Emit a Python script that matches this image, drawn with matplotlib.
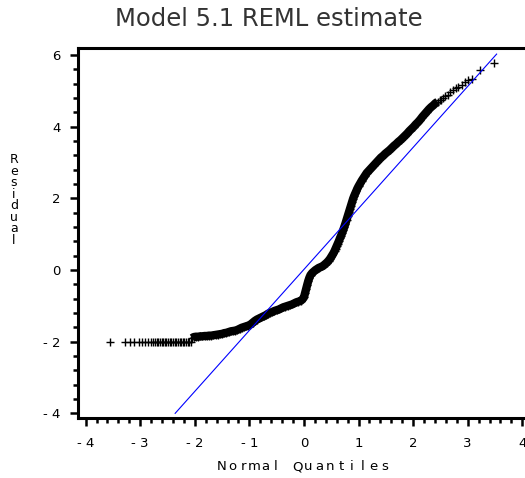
import matplotlib
matplotlib.use("Agg")
import matplotlib.pyplot as plt
from matplotlib.ticker import FixedLocator, MultipleLocator

# ---------------- data ----------------
# lower tail: residual floor at about -2.02
tail_q = [-3.55, -3.28, -3.19, -3.11, -3.03, -2.97, -2.91, -2.86, -2.81, -2.77,
          -2.73, -2.70, -2.67, -2.64, -2.61, -2.58, -2.55, -2.52, -2.49, -2.46,
          -2.43, -2.40, -2.37, -2.34, -2.31, -2.28, -2.25, -2.22, -2.19, -2.16,
          -2.13, -2.10, -2.07]
tail_r = [-2.02] * 33

# dense body of the Q-Q curve
body_q = [-2.05, -2.02, -1.98, -1.94, -1.90, -1.86, -1.82, -1.78, -1.74, -1.70,
          -1.66, -1.62, -1.58, -1.54, -1.50, -1.46, -1.42, -1.38, -1.34, -1.30,
          -1.26, -1.22, -1.18, -1.14, -1.10, -1.06, -1.02, -0.98, -0.94, -0.90,
          -0.86, -0.82, -0.78, -0.74, -0.70, -0.66, -0.62, -0.58, -0.54, -0.50,
          -0.46, -0.42, -0.38, -0.34, -0.30, -0.26, -0.22, -0.18, -0.14, -0.10,
          -0.06, -0.03, 0.00, 0.02, 0.04, 0.06, 0.08, 0.10, 0.12, 0.15,
          0.18, 0.21, 0.24, 0.27, 0.30, 0.33, 0.36, 0.39, 0.42, 0.45,
          0.48, 0.50, 0.52, 0.54, 0.56, 0.58, 0.60, 0.62, 0.64, 0.66,
          0.68, 0.70, 0.72, 0.74, 0.76, 0.78, 0.80, 0.82, 0.84, 0.86,
          0.88, 0.90, 0.92, 0.94, 0.96, 0.98, 1.00, 1.03, 1.06, 1.09,
          1.12, 1.15, 1.18, 1.21, 1.25, 1.29, 1.33, 1.37, 1.41, 1.45,
          1.49, 1.53, 1.57, 1.61, 1.65, 1.69, 1.73, 1.77, 1.81, 1.85,
          1.89, 1.93, 1.97, 2.01, 2.05, 2.09, 2.13, 2.17, 2.21, 2.25,
          2.29, 2.33, 2.37, 2.41, 2.45]
body_r = [-1.90, -1.87, -1.86, -1.86, -1.85, -1.85, -1.84, -1.84, -1.83, -1.83,
          -1.82, -1.81, -1.80, -1.79, -1.78, -1.76, -1.75, -1.73, -1.71, -1.70,
          -1.69, -1.67, -1.64, -1.61, -1.59, -1.57, -1.55, -1.52, -1.47, -1.42,
          -1.38, -1.35, -1.32, -1.29, -1.26, -1.22, -1.19, -1.17, -1.14, -1.12,
          -1.10, -1.07, -1.04, -1.02, -1.00, -0.98, -0.96, -0.93, -0.90, -0.88,
          -0.86, -0.82, -0.76, -0.64, -0.52, -0.41, -0.30, -0.21, -0.14, -0.08,
          -0.04, 0.00, 0.03, 0.06, 0.08, 0.10, 0.13, 0.17, 0.21, 0.26,
          0.32, 0.37, 0.42, 0.47, 0.53, 0.60, 0.67, 0.74, 0.81, 0.89,
          0.96, 1.04, 1.12, 1.21, 1.30, 1.40, 1.50, 1.61, 1.71, 1.80,
          1.90, 1.99, 2.07, 2.14, 2.21, 2.28, 2.34, 2.42, 2.50, 2.57,
          2.64, 2.71, 2.76, 2.81, 2.88, 2.94, 3.01, 3.08, 3.14, 3.19,
          3.25, 3.30, 3.35, 3.41, 3.47, 3.52, 3.58, 3.63, 3.69, 3.75,
          3.81, 3.88, 3.94, 4.00, 4.07, 4.13, 4.20, 4.28, 4.35, 4.42,
          4.49, 4.55, 4.60, 4.66, 4.70]

# upper tail: individual crosses
upper_q = [2.49, 2.52, 2.55, 2.59, 2.64, 2.68, 2.73, 2.78, 2.83, 2.89,
           2.95, 3.01, 3.07, 3.22, 3.49]
upper_r = [4.74, 4.76, 4.80, 4.85, 4.89, 4.96, 5.03, 5.08, 5.12, 5.17,
           5.24, 5.31, 5.33, 5.59, 5.79]

# reference line end points
ref_q = [-2.36, 3.53]
ref_r = [-4.00, 6.03]

xtick_vals = [-4, -3, -2, -1, 0, 1, 2, 3, 4]
xtick_labels = ["- 4", "- 3", "- 2", "- 1", "0", "1", "2", "3", "4"]
ytick_vals = [-4, -2, 0, 2, 4, 6]
ytick_labels = ["- 4", "- 2", "0", "2", "4", "6"]

title = "Model 5.1 REML estimate"
xlabel = "Normal Quantiles"
ylabel = "Residual"

# ---------------- figure ----------------
W, H = 525, 478
fig = plt.figure(figsize=(W / 100, H / 100), dpi=100)
ax = fig.add_axes([78 / W, 60 / H, (W - 78) / W, 370 / H])
ax.set_xlim(-4.14, 4.05)
ax.set_ylim(-4.13, 6.20)

ax.plot(ref_q, ref_r, color="#0000ff", lw=0.8, zorder=3)

mk = dict(marker="+", color="black", ms=6, mew=1.0, ls="none", zorder=2)
ax.plot(tail_q, tail_r, **mk)
ax.plot(body_q, body_r, color="black", lw=6, solid_capstyle="butt", zorder=2)
ax.plot(body_q, body_r, **mk)
ax.plot(upper_q, upper_r, **mk)

for s in ["top", "left", "bottom"]:
    ax.spines[s].set_linewidth(2.2)
ax.spines["right"].set_visible(False)

ax.xaxis.set_major_locator(FixedLocator(xtick_vals))
ax.set_xticklabels(xtick_labels)
ax.xaxis.set_minor_locator(MultipleLocator(0.2))
ax.yaxis.set_major_locator(FixedLocator(ytick_vals))
ax.set_yticklabels(ytick_labels)
ax.yaxis.set_minor_locator(MultipleLocator(0.4))

ax.tick_params(which="major", direction="out", length=5.5, width=1.8,
               labelsize=9.5, colors="black")
ax.tick_params(which="minor", direction="out", length=3.5, width=1.8)
ax.tick_params(axis="x", which="major", pad=8)
ax.tick_params(axis="y", which="major", pad=7)

# title
fig.text(269 / W, 1 - 19 / H, title, ha="center", va="center",
         fontsize=17.5, family="DejaVu Sans", color="#333333")

# letter-spaced x label
def spaced(text, x0, y0, pitch):
    n = len(text)
    for i, ch in enumerate(text):
        if ch == " ":
            continue
        x = x0 + (i - (n - 1) / 2) * pitch
        fig.text(x / W, 1 - y0 / H, ch, ha="center", va="center",
                 fontsize=9.5, color="black")

spaced(xlabel, 303, 467, 10.9)

# stacked y label
fig.text(14 / W, 1 - 200 / H, "\n".join(ylabel), ha="center", va="center",
         fontsize=9, linespacing=0.85, color="black")

fig.savefig("out.png", dpi=100)
